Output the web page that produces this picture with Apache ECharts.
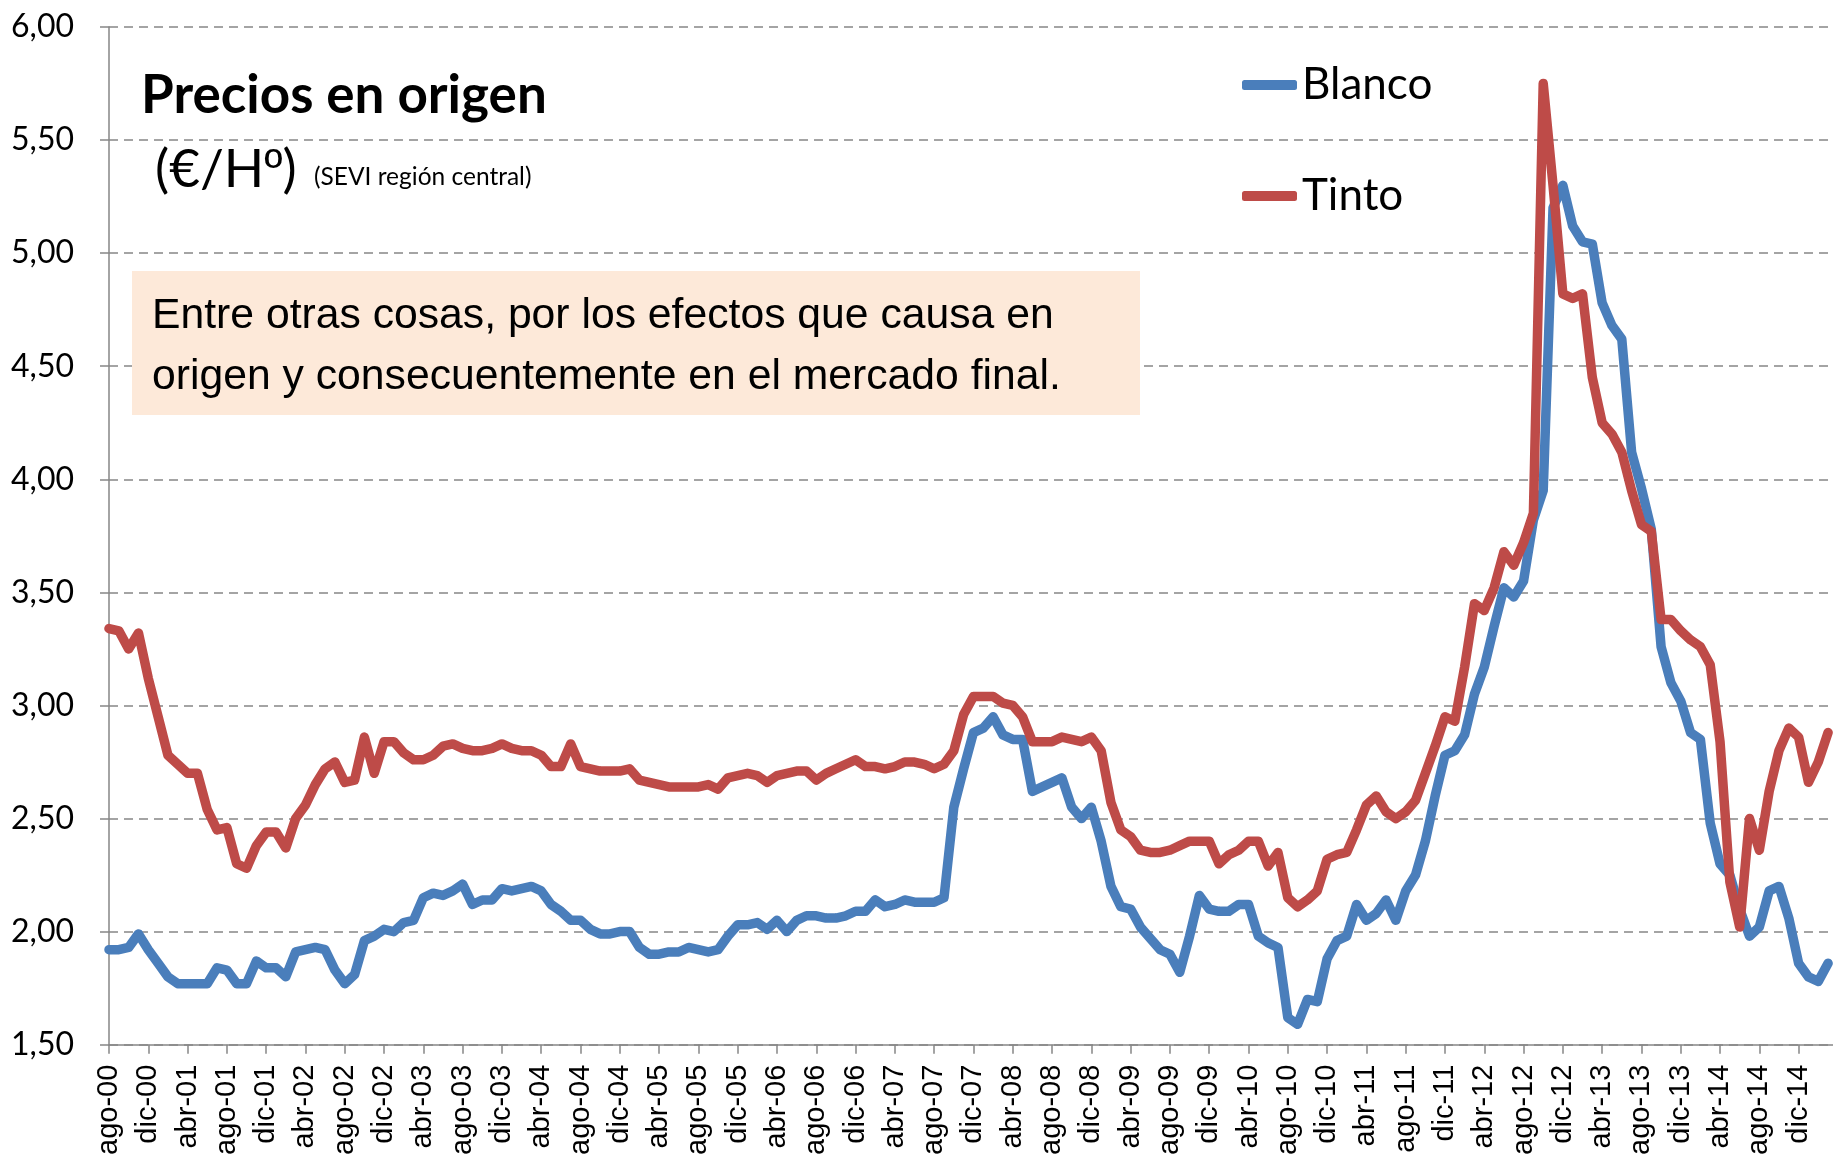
<!DOCTYPE html>
<html><head><meta charset="utf-8">
<script src="https://cdn.jsdelivr.net/npm/echarts@6/dist/echarts.min.js"></script>
<style>html,body{margin:0;padding:0;background:#fff}#c{width:1833px;height:1158px}</style>
</head><body><div id="c"></div>
<script>
// Tick labels every 4 months, starting ago-00 (month index 0)
const tickLabels = ['ago-00','dic-00','abr-01','ago-01','dic-01','abr-02','ago-02','dic-02','abr-03','ago-03','dic-03','abr-04','ago-04','dic-04','abr-05','ago-05','dic-05','abr-06','ago-06','dic-06','abr-07','ago-07','dic-07','abr-08','ago-08','dic-08','abr-09','ago-09','dic-09','abr-10','ago-10','dic-10','abr-11','ago-11','dic-11','abr-12','ago-12','dic-12','abr-13','ago-13','dic-13','abr-14','ago-14','dic-14'];

// Monthly values, ago-00 .. mar-15 (176 months)
const blanco = [
1.92,1.92,1.93,1.99,1.92,1.86,1.80,1.77,1.77,1.77,
1.77,1.84,1.83,1.77,1.77,1.87,1.84,1.84,1.80,1.91,
1.92,1.93,1.92,1.83,1.77,1.81,1.96,1.98,2.01,2.00,
2.04,2.05,2.15,2.17,2.16,2.18,2.21,2.12,2.14,2.14,
2.19,2.18,2.19,2.20,2.18,2.12,2.09,2.05,2.05,2.01,
1.99,1.99,2.00,2.00,1.93,1.90,1.90,1.91,1.91,1.93,
1.92,1.91,1.92,1.98,2.03,2.03,2.04,2.01,2.05,2.00,
2.05,2.07,2.07,2.06,2.06,2.07,2.09,2.09,2.14,2.11,
2.12,2.14,2.13,2.13,2.13,2.15,2.55,2.72,2.88,2.90,
2.95,2.87,2.85,2.85,2.62,2.64,2.66,2.68,2.55,2.50,
2.55,2.40,2.20,2.11,2.10,2.02,1.97,1.92,1.90,1.82,
1.98,2.16,2.10,2.09,2.09,2.12,2.12,1.98,1.95,1.93,
1.62,1.59,1.70,1.69,1.88,1.96,1.98,2.12,2.05,2.08,
2.14,2.05,2.18,2.25,2.40,2.60,2.78,2.80,2.87,3.05,
3.17,3.35,3.52,3.48,3.55,3.82,3.95,5.20,5.30,5.12,
5.05,5.04,4.78,4.68,4.62,4.12,3.96,3.78,3.26,3.10,
3.02,2.88,2.85,2.48,2.30,2.25,2.10,1.98,2.02,2.18,
2.20,2.06,1.86,1.80,1.78,1.86];

const tinto = [
3.34,3.33,3.25,3.32,3.12,2.95,2.78,2.74,2.70,2.70,
2.54,2.45,2.46,2.30,2.28,2.38,2.44,2.44,2.37,2.50,
2.56,2.65,2.72,2.75,2.66,2.67,2.86,2.70,2.84,2.84,
2.79,2.76,2.76,2.78,2.82,2.83,2.81,2.80,2.80,2.81,
2.83,2.81,2.80,2.80,2.78,2.73,2.73,2.83,2.73,2.72,
2.71,2.71,2.71,2.72,2.67,2.66,2.65,2.64,2.64,2.64,
2.64,2.65,2.63,2.68,2.69,2.70,2.69,2.66,2.69,2.70,
2.71,2.71,2.67,2.70,2.72,2.74,2.76,2.73,2.73,2.72,
2.73,2.75,2.75,2.74,2.72,2.74,2.80,2.96,3.04,3.04,
3.04,3.01,3.00,2.95,2.84,2.84,2.84,2.86,2.85,2.84,
2.86,2.80,2.57,2.45,2.42,2.36,2.35,2.35,2.36,2.38,
2.40,2.40,2.40,2.30,2.34,2.36,2.40,2.40,2.29,2.35,
2.15,2.11,2.14,2.18,2.32,2.34,2.35,2.45,2.56,2.60,
2.53,2.50,2.53,2.58,2.70,2.82,2.95,2.93,3.17,3.45,
3.42,3.52,3.68,3.62,3.72,3.85,5.75,5.30,4.82,4.80,
4.82,4.45,4.25,4.20,4.12,3.95,3.80,3.77,3.38,3.38,
3.33,3.29,3.26,3.18,2.84,2.22,2.02,2.50,2.36,2.62,
2.80,2.90,2.86,2.66,2.75,2.88];

const seriesNames = ['Blanco','Tinto'];
const colors = ['#4A7EBB','#BE4B48'];

const chart = echarts.init(document.getElementById('c'), null, {renderer:'canvas'});
const mkSeries = (name, vals, color) => ({
  name, type:'line', data: vals.map((v,i)=>[i,v]),
  symbol:'none', showSymbol:false, smooth:false,
  lineStyle:{width:9.5, color, cap:'round', join:'round'},
  itemStyle:{color}, emphasis:{disabled:true}
});
chart.setOption({
  animation:false,
  backgroundColor:'#ffffff',
  grid:{left:109, right:0, top:27, bottom:109, containLabel:false},
  xAxis:{
    type:'value', min:0, max:175.5, interval:4,
    axisLine:{show:true, onZero:false, lineStyle:{color:'#868686', width:1.5}},
    axisTick:{show:true, length:9, lineStyle:{color:'#868686', width:1.5}},
    axisLabel:{rotate:90, margin:20, fontSize:29, fontFamily:'Liberation Sans, Arial, sans-serif', color:'#000',
      showMaxLabel:false, showMinLabel:true,
      formatter: v => { const k = v/4; return Number.isInteger(k) && tickLabels[k] ? tickLabels[k] : ''; }},
    splitLine:{show:false}
  },
  yAxis:{
    type:'value', min:1.5, max:6, interval:0.5,
    axisLine:{show:true, lineStyle:{color:'#868686', width:1.5}},
    axisTick:{show:true, length:9, lineStyle:{color:'#868686', width:1.5}},
    axisLabel:{margin:35, fontSize:32, fontFamily:'Lato, sans-serif', color:'#000',
      formatter: v => v.toFixed(2).replace('.', ',')},
    splitLine:{show:true, lineStyle:{color:'#868686', width:1.5, type:[9,6]}}
  },
  legend:{
    orient:'vertical', left:1237, top:58, itemWidth:55, itemHeight:10, itemGap:67,
    icon:'roundRect', data:seriesNames,
    textStyle:{fontSize:44, fontFamily:'Lato, sans-serif', color:'#000', lineHeight:44}
  },
  series:[mkSeries(seriesNames[0], blanco, colors[0]), mkSeries(seriesNames[1], tinto, colors[1])],
  graphic:[
    {type:'text', x:141, y:96, z:10, style:{text:'Precios en origen', font:'bold 53px Lato', fill:'#000', verticalAlign:'middle', align:'left'}},
    {type:'text', x:155, y:170, z:10, style:{text:'(€/H{o|º})', font:'53px Lato', fill:'#000', verticalAlign:'middle', align:'left',
      rich:{o:{fontFamily:'Liberation Sans', fontSize:50, fill:'#000', lineHeight:60}}}},
    {type:'text', x:314, y:177, z:10, style:{text:'(SEVI región central)', font:'24.5px Lato', fill:'#000', verticalAlign:'middle', align:'left'}},
    {type:'rect', z:10, shape:{x:132, y:271, width:1008, height:144}, style:{fill:'#FDE9D9'}},
    {type:'text', x:152, y:347, z:11, style:{text:'Entre otras cosas, por los efectos que causa en\norigen y consecuentemente en el mercado final.', font:'42.7px "Liberation Sans", Arial', lineHeight:61, fill:'#000', verticalAlign:'middle', align:'left'}}
  ]
});
</script>
</body></html>
